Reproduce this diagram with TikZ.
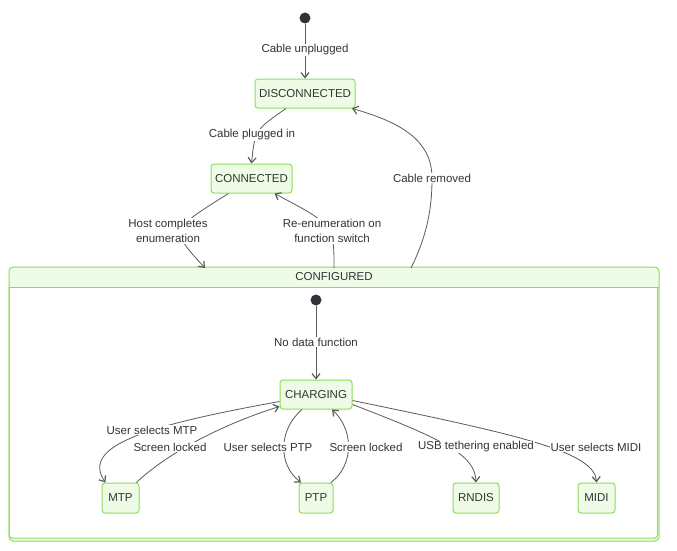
\documentclass[tikz,border=0pt]{standalone}
\usepackage{fontspec}
\setmainfont{Liberation Sans}
\usetikzlibrary{arrows.meta}
\definecolor{boxfill}{RGB}{238,251,230}
\definecolor{boxline}{RGB}{140,222,90}
\definecolor{txt}{RGB}{51,51,51}
\definecolor{edgec}{RGB}{90,90,90}
\definecolor{dotc}{RGB}{47,52,58}
\tikzset{
  state/.style={draw=boxline, fill=boxfill, line width=1pt, rounded corners=3pt,
    minimum height=29pt, inner xsep=0pt, text=txt, font=\fontsize{11.5}{14}\selectfont},
  lbl/.style={fill=white, inner sep=1pt, text=txt, font=\fontsize{11.5}{15}\selectfont, align=center},
  edge/.style={draw=edgec, line width=0.8pt, -{Straight Barb[length=5pt,width=8pt,line width=1.2pt]}},
  startdot/.style={circle, fill=dotc, minimum size=11pt, inner sep=0pt}
}
\begin{document}
\begin{tikzpicture}[x=1pt,y=-1pt]
\useasboundingbox (0,0) rectangle (677,551);
% composite
\draw[draw=boxline, fill=boxfill, line width=1pt, rounded corners=4pt] (9,267) rectangle (659,541);
\fill[white] (9.5,287) rectangle (657.5,538);
\draw[draw=boxline, line width=1pt, rounded corners=3pt] (9,287) -- (9,538) -- (657.5,538) -- (657.5,287);
\draw[draw=boxline, line width=1pt] (9,287) -- (659,287);
\node[text=txt, font=\fontsize{11.5}{14}\selectfont] (cfg) at (334,277) {CONFIGURED};
\coordinate (cfgA) at (205,268);
\coordinate (cfgB) at (334,268);
\coordinate (cfgC) at (411,268);

% top nodes
\node[startdot] (s1) at (305,18) {};
\node[state, minimum width=100pt] (dis) at (305,93.5) {DISCONNECTED};
\node[state, minimum width=81pt] (con) at (251.5,178.5) {CONNECTED};

% inner nodes
\node[startdot] (s2) at (316,300) {};
\node[state, minimum width=72pt] (chg) at (316,394.5) {CHARGING};
\node[state, minimum width=37pt, minimum height=30pt] (mtp) at (120.5,498) {MTP};
\node[state, minimum width=34pt, minimum height=30pt] (ptp) at (316,498) {PTP};
\node[state, minimum width=46pt, minimum height=30pt] (rnd) at (476,498) {RNDIS};
\node[state, minimum width=37pt, minimum height=30pt] (midi) at (596.5,498) {MIDI};

% edges
\draw[edge] (s1) -- (dis.north);
\draw[edge] ([xshift=-19pt]dis.south) .. controls (255,130) .. (con.north);
\draw[edge] ([xshift=-23pt]con.south) .. controls (170,230) .. (cfgA);
\draw[edge] (cfgB) .. controls (334,225) .. ([xshift=23pt]con.south);
\draw[edge] (cfgC) .. controls (430,230) and (432,200) .. (432,178) .. controls (432,140) and (400,122) .. ([xshift=47pt]dis.south);
\draw[edge] (s2) -- (chg.north);
\draw[edge] ([yshift=-7pt]chg.west) .. controls (150,425) and (80,445) .. ([xshift=-15pt]mtp.north);
\draw[edge] ([xshift=16pt]mtp.north) .. controls (165,455) and (220,425) .. ([yshift=-12pt]chg.west);
\draw[edge] ([xshift=-14pt]chg.south) .. controls (278,430) and (278,465) .. ([xshift=-15pt]ptp.north);
\draw[edge] ([xshift=15pt]ptp.north) .. controls (354,465) and (354,430) .. ([xshift=16pt]chg.south);
\draw[edge] ([yshift=-10pt]chg.east) .. controls (445,440) and (475,455) .. (rnd.north);
\draw[edge] ([yshift=-6pt]chg.east) .. controls (520,435) and (595,452) .. (midi.north);

% labels
\node[lbl] (l1) at (305,50) {Cable unplugged};
\node[lbl] (l2) at (252,135) {Cable plugged in};
\node[lbl] (l3) at (168,231) {Host completes\\enumeration};
\node[lbl] (l4) at (332,231) {Re-enumeration on\\function switch};
\node[lbl] (l5) at (432,178) {Cable removed};
\node[lbl] (l6) at (316,342) {No data function};
\node[lbl] (l7) at (152,430) {User selects MTP};
\node[lbl] (l8) at (170,447) {Screen locked};
\node[lbl] (l9) at (268,447) {User selects PTP};
\node[lbl] (l10) at (366,447) {Screen locked};
\node[lbl] (l11) at (476,447) {USB tethering enabled};
\node[lbl] (l12) at (596,447) {User selects MIDI};
\end{tikzpicture}
\end{document}
